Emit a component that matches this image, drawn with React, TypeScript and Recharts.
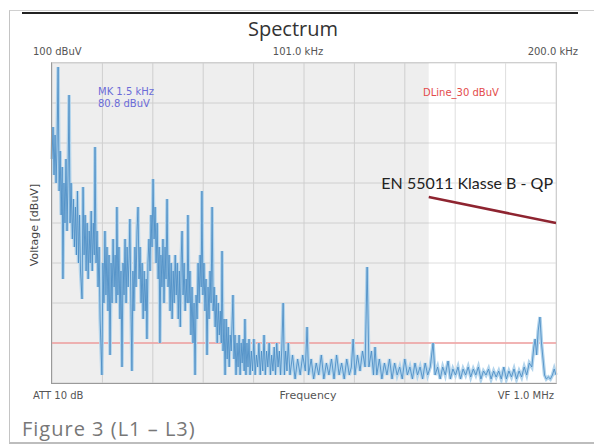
import React from 'react';
import {
  ComposedChart,
  Line,
  XAxis,
  YAxis,
  CartesianGrid,
  ReferenceArea,
  ReferenceLine,
} from 'recharts';

// spectrum trace (kHz / dBuV)
const traceKHz = [
  2.0, 2.4, 2.8, 3.2, 3.6, 4.0, 4.4, 4.8, 5.2, 5.6,
  6.0, 6.3, 6.7, 7.1, 7.5, 7.9, 8.3, 8.7, 9.1, 9.5,
  10.0, 10.4, 10.8, 11.2, 11.6, 12.0, 12.4, 12.8, 13.2, 13.8,
  14.2, 14.6, 15.0, 15.4, 15.8, 16.2, 16.6, 17.0, 17.4, 17.8,
  18.2, 18.6, 18.9, 19.3, 19.7, 20.1, 20.5, 20.9, 21.6, 22.0,
  22.4, 22.8, 23.2, 23.6, 24.0, 24.4, 24.8, 25.2, 25.6, 26.0,
  26.4, 26.8, 27.2, 27.5, 27.9, 28.3, 28.7, 29.1, 29.5, 29.9,
  30.3, 30.7, 31.1, 31.5, 31.9, 32.3, 32.6, 33.0, 33.4, 33.8,
  34.2, 34.6, 35.0, 35.4, 35.8, 36.2, 36.6, 37.0, 37.4, 37.8,
  38.2, 38.6, 39.0, 39.3, 39.7, 40.1, 40.5, 40.9, 41.3, 41.7,
  42.1, 42.5, 42.9, 43.3, 43.7, 44.1, 44.4, 44.8, 45.2, 45.6,
  46.0, 46.4, 46.8, 47.2, 47.6, 48.0, 48.4, 48.8, 49.2, 49.6,
  50.0, 50.4, 50.8, 51.2, 51.6, 52.0, 52.4, 52.8, 53.1, 53.5,
  53.9, 54.3, 54.7, 55.1, 55.4, 55.8, 56.2, 56.6, 57.0, 57.4,
  57.8, 58.2, 58.6, 59.0, 59.4, 59.8, 60.2, 60.6, 60.9, 61.3,
  61.7, 62.1, 62.5, 62.9, 63.3, 63.7, 64.1, 64.5, 64.9, 65.3,
  65.7, 66.1, 66.5, 66.9, 67.3, 67.7, 68.1, 68.5, 68.8, 69.2,
  69.6, 70.0, 70.4, 70.8, 71.2, 71.6, 72.0, 72.4, 72.8, 73.1,
  73.5, 73.9, 74.3, 74.7, 75.1, 75.5, 75.9, 76.3, 76.7, 77.1,
  77.5, 77.8, 78.2, 78.6, 79.0, 79.4, 79.8, 80.3, 80.8, 81.3,
  81.8, 82.3, 82.8, 83.3, 83.8, 84.3, 84.8, 85.3, 85.8, 86.3,
  86.8, 87.3, 87.8, 88.3, 88.8, 89.3, 89.8, 90.3, 90.8, 91.3,
  91.8, 92.3, 92.8, 93.3, 93.8, 94.3, 94.8, 95.5, 96.5, 97.5,
  98.5, 99.5, 100.5, 101.5, 102.2, 102.8, 103.8, 104.8, 105.8, 106.8,
  107.8, 108.8, 109.8, 110.8, 111.8, 112.8, 113.8, 114.8, 115.8, 116.8,
  117.8, 118.8, 119.6, 120.3, 121.0, 122.0, 123.0, 124.0, 125.0, 125.8,
  126.5, 127.5, 128.3, 128.9, 129.6, 130.6, 131.6, 132.6, 133.6, 134.6,
  135.6, 136.6, 137.6, 138.6, 139.6, 140.6, 141.6, 142.6, 143.6, 144.6,
  145.6, 146.6, 147.6, 148.6, 149.6, 150.6, 151.7, 152.5, 153.5, 154.5,
  155.5, 156.5, 157.6, 158.5, 159.5, 160.5, 161.5, 162.5, 163.5, 164.5,
  165.5, 166.5, 167.5, 168.5, 169.5, 170.5, 171.5, 172.5, 173.5, 174.5,
  175.5, 176.5, 177.5, 178.5, 179.5, 180.5, 181.5, 182.5, 183.5, 184.5,
  185.5, 186.5, 187.5, 188.5, 189.5, 190.5, 191.3, 191.8, 192.4, 193.0,
  193.7, 194.3, 194.9, 195.5, 196.2, 197.0, 197.8, 198.6, 199.3, 200.0,
];

const traceDbuv = [
  76, 84, 72, 82, 70, 80, 99, 68, 78, 62,
  74, 46, 70, 60, 76, 58, 72, 92, 60, 70,
  56, 66, 54, 64, 52, 68, 50, 62, 48, 41,
  69, 52, 62, 48, 60, 46, 58, 50, 63, 48,
  60, 52, 79, 50, 58, 44, 54, 36, 22, 50,
  40, 58, 42, 54, 38, 52, 27, 50, 40, 56,
  44, 52, 40, 64, 42, 54, 36, 48, 24, 50,
  42, 56, 40, 54, 44, 52, 61, 40, 23, 48,
  38, 54, 44, 58, 64, 46, 54, 40, 50, 36,
  48, 38, 46, 31, 50, 56, 48, 62, 54, 71,
  56, 64, 50, 60, 46, 54, 30, 52, 44, 56,
  40, 54, 46, 66, 44, 52, 38, 50, 36, 48,
  40, 52, 42, 50, 36, 48, 34, 52, 58, 42,
  50, 38, 46, 40, 62, 40, 48, 32, 44, 30,
  40, 22, 42, 36, 50, 40, 52, 44, 68, 42,
  50, 38, 46, 27, 44, 36, 48, 40, 64, 38,
  44, 34, 42, 30, 40, 32, 38, 30, 53, 28,
  36, 22, 36, 26, 34, 24, 32, 28, 36, 42,
  26, 32, 22, 30, 24, 32, 22, 30, 25, 31,
  23, 36, 22, 30, 24, 31, 22, 28, 23, 31,
  22, 27, 24, 30, 22, 28, 23, 32, 22, 28,
  24, 30, 22, 27, 23, 29, 22, 30, 24, 28,
  22, 29, 40, 22, 28, 23, 30, 22, 27, 21,
  26, 22, 27, 23, 34, 22, 26, 21, 25, 22,
  27, 21, 25, 22, 26, 21, 27, 22, 25, 21,
  26, 22, 24, 31, 22, 27, 23, 28, 24, 49,
  24, 28, 22, 29, 22, 26, 21, 25, 22, 26,
  21, 25, 22, 24, 21, 26, 22, 24, 21, 25,
  22, 24, 21, 25, 22, 24, 30, 22, 24, 21,
  24, 22, 25.5, 21, 23.5, 22, 24, 21, 23.5, 22,
  24, 21.5, 23.5, 22, 24, 21, 23, 22, 23.5, 21,
  23, 21.5, 23, 21, 24, 21, 23, 21.5, 23.5, 21,
  23, 21.5, 24, 22, 25, 24, 29, 31, 27, 33,
  36.5, 30, 26, 22, 21, 21.5, 21, 22, 23.5, 22,
];

// EN 55011 class B QP limit (start / end of the drawn segment)
const limitKHz = [150, 200];
const limitDbuv = [66.5, 60];
const displayLine = 30;
const shadedKHz = [2, 150];

const xTicks = [2, 21.8, 41.6, 61.4, 81.2, 101, 120.8, 140.6, 160.4, 180.2, 200];
const yTicks = [20, 30, 40, 50, 60, 70, 80, 90, 100];

const data = traceKHz.map((f, i) => ({ f, v: traceDbuv[i] }));

const small: React.CSSProperties = {
  position: 'absolute',
  fontFamily: '"DejaVu Sans", sans-serif',
  fontSize: 10,
  lineHeight: '12px',
  color: '#555',
  whiteSpace: 'nowrap',
};

export default function App() {
  return (
    <div
      style={{
        position: 'absolute',
        left: 0,
        top: 0,
        width: 594,
        height: 444,
        overflow: 'hidden',
        background: '#fff',
      }}
    >
      {/* frame */}
      <div style={{ position: 'absolute', left: 9, top: 10, width: 585, height: 431, borderLeft: '1px solid #c4c4c4', borderTop: '1px solid #d0d0d0', borderBottom: '2px solid #bdbdbd' }} />
      <div style={{ position: 'absolute', left: 22, top: 12, width: 556, height: 2, background: '#222' }} />

      <ComposedChart
        width={594}
        height={444}
        data={data}
        margin={{ top: 63, left: 52, right: 38, bottom: 61 }}
        style={{ position: 'absolute', left: 0, top: 0 }}
      >
        <XAxis dataKey="f" type="number" domain={[2, 200]} ticks={xTicks} hide />
        <YAxis type="number" domain={[20, 100]} ticks={yTicks} hide allowDataOverflow />
        <CartesianGrid stroke="#dedede" strokeWidth={1} />
        {/* translucent shade so the grid still shows through */}
        <ReferenceArea x1={shadedKHz[0]} x2={shadedKHz[1]} fill="#000" fillOpacity={0.065} stroke="none" />
        <ReferenceLine y={displayLine} stroke="#f2a0a0" strokeWidth={1.5} />
        <Line dataKey="v" type="linear" stroke="#b2d4ec" strokeWidth={3.5} dot={false} isAnimationActive={false} />
        <Line dataKey="v" type="linear" stroke="#4a8cc4" strokeOpacity={0.85} strokeWidth={1} dot={false} isAnimationActive={false} />
        <ReferenceLine
          segment={[
            { x: limitKHz[0], y: limitDbuv[0] },
            { x: limitKHz[1], y: limitDbuv[1] },
          ]}
          stroke="#8e2430"
          strokeWidth={2.5}
        />
      </ComposedChart>

      {/* plot border */}
      <div style={{ position: 'absolute', left: 51, top: 62, width: 504, height: 320, borderTop: '1px solid #cfcfcf', borderRight: '1px solid #cfcfcf', borderLeft: '1px solid #9a9a9a', borderBottom: '1px solid #9a9a9a' }} />

      <div style={{ position: 'absolute', left: 193, top: 19, width: 200, textAlign: 'center', fontFamily: '"Open Sans", sans-serif', fontSize: 20, lineHeight: '20px', color: '#333' }}>
        Spectrum
      </div>
      <div style={{ ...small, left: 33, top: 46 }}>100 dBuV</div>
      <div style={{ ...small, left: 198, top: 46, width: 200, textAlign: 'center' }}>101.0 kHz</div>
      <div style={{ ...small, left: 378, top: 46, width: 200, textAlign: 'right' }}>200.0 kHz</div>

      <div style={{ ...small, left: 98, top: 86, color: '#6b6bd8' }}>MK 1.5 kHz</div>
      <div style={{ ...small, left: 98, top: 98, color: '#6b6bd8' }}>80.8 dBuV</div>
      <div style={{ ...small, left: 423, top: 87, color: '#e34b4b' }}>DLine_30 dBuV</div>

      <div style={{ position: 'absolute', left: 353, top: 175, width: 200, textAlign: 'right', fontFamily: 'Lato, sans-serif', fontSize: 16, lineHeight: '16px', color: '#222', whiteSpace: 'nowrap' }}>
        EN 55011 Klasse B - QP
      </div>

      <div style={{ ...small, fontSize: 11, left: -15, top: 219, width: 100, textAlign: 'center', transform: 'rotate(-90deg)', color: '#444' }}>
        Voltage [dBuV]
      </div>

      <div style={{ ...small, left: 33, top: 390 }}>ATT 10 dB</div>
      <div style={{ ...small, fontSize: 11, left: 208, top: 390, width: 200, textAlign: 'center' }}>Frequency</div>
      <div style={{ ...small, left: 354, top: 390, width: 200, textAlign: 'right' }}>VF 1.0 MHz</div>

      <div style={{ position: 'absolute', left: 22, top: 419, fontFamily: '"Open Sans", sans-serif', fontSize: 20, lineHeight: '20px', letterSpacing: 1, color: '#777', whiteSpace: 'nowrap' }}>
        Figure 3 (L1 – L3)
      </div>
    </div>
  );
}
